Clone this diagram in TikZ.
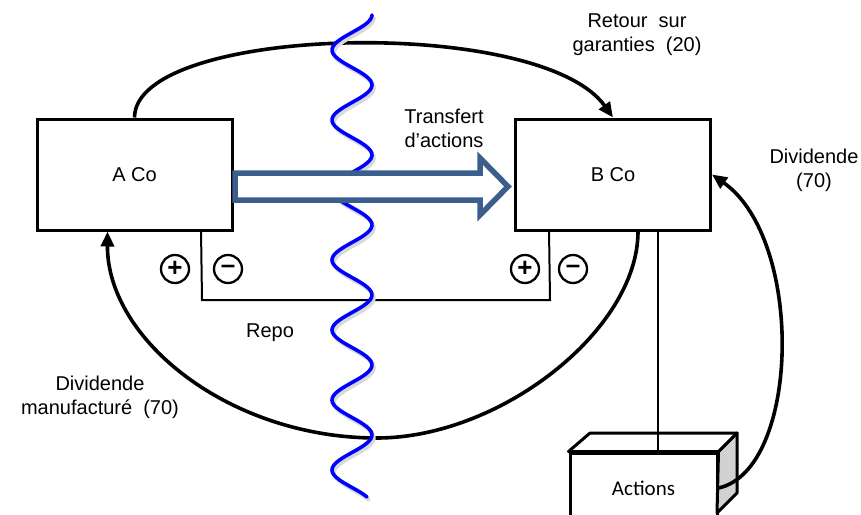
\documentclass[tikz,border=0pt]{standalone}
\usepackage{fontspec}
\setmainfont{Liberation Sans}
\newfontfamily\calfont{Carlito}
\usepackage{xcolor}
\usetikzlibrary{arrows.meta,positioning}
\definecolor{arrowblue}{RGB}{59,94,140}
\definecolor{sidegray}{RGB}{210,210,210}

\begin{document}
\begin{tikzpicture}[
    x=1pt,y=-1pt,
    font=\fontsize{20}{24}\selectfont,
    box/.style={draw,line width=3pt,minimum width=195pt,minimum height=111pt,align=center},
    arr/.style={-{Triangle[length=15pt,width=13pt]},line width=3.6pt},
    sign/.style={draw,circle,line width=2.3pt,minimum size=28pt,inner sep=0pt,font=\fontsize{26}{26}\selectfont\bfseries},
    lbl/.style={align=center},
    thin/.style={line width=2pt}
  ]
    \useasboundingbox (0,0) rectangle (861,514);
    \node[box] (aco) at (134.5,174.5) {A Co};
    \node[box] (bco) at (613,174.5) {B Co};
    \node[draw,line width=3pt,minimum width=147pt,minimum height=70pt,font=\calfont\fontsize{21}{24}\selectfont] (act) at (643.5,488) {Actions};
    % box faces
    \draw[line width=3pt,fill=sidegray,line join=round] (act.north east) -- (737,433) -- (737,493) -- (717,513) -- cycle;
    \draw[line width=3pt,fill=white,line join=round] (act.north west) -- (590,433) -- (737,433) -- (act.north east) -- cycle;
    \node[sign] (pa) at (175,269) {+};
    \node[sign] (ma) at (228,269) {--};
    \node[sign] (pb) at (525,269) {+};
    \node[sign] (mb) at (573,269) {--};
    \coordinate (rl) at (202,300);
    \coordinate (rr) at (550,300);
    \node[lbl] (repo) at (270,333) {Repo};
    \node[lbl] (ret) at (637,35) {Retour\ \ sur\\garanties\ \ (20)};
    \node[lbl] (tra) at (444,128) {Transfert\\d'actions};
    \node[lbl] (div) at (814,170) {Dividende\\(70)};
    \node[lbl] (man) at (100,397) {Dividende\\manufactur\'e\ \ (70)};
    % repo bracket
    \draw[thin] ([xshift=-32.5pt,yshift=2pt]aco.south east) -- (rl) -- (rr) -- ([xshift=35pt,yshift=2pt]bco.south west);
    \draw[thin] ([xshift=45pt]bco.south) -- ([xshift=14.5pt]act.north);
    % flows
    \draw[arr] (aco.north) .. controls (135,25) and (540,15) .. (bco.north);
    \draw[arr] ([xshift=25pt]bco.south) .. controls (638,330) and (500,438) .. (377,438)
      .. controls (230,438) and (107,340) .. ([xshift=-27pt]aco.south);
    \draw[arr] (act.east) .. controls (800,470) and (805,240) .. (bco.east);
    % border line
    \draw[gray!30,line width=3.6pt,line cap=round,shift={(2,3)}] plot[domain=15:497,samples=200,smooth] ({352+20*cos((\x-15)/70*360)},\x);
    \draw[blue,line width=3.6pt,line cap=round] plot[domain=15:497,samples=200,smooth] ({352+20*cos((\x-15)/70*360)},\x);
    % share transfer
    \draw[arrowblue,line width=5.5pt,fill=white,line join=miter] (235,173) -- (480,173) -- (480,158) -- (508,186.5) -- (480,215) -- (480,200) -- (235,200) -- cycle;
  \end{tikzpicture}
\end{document}
